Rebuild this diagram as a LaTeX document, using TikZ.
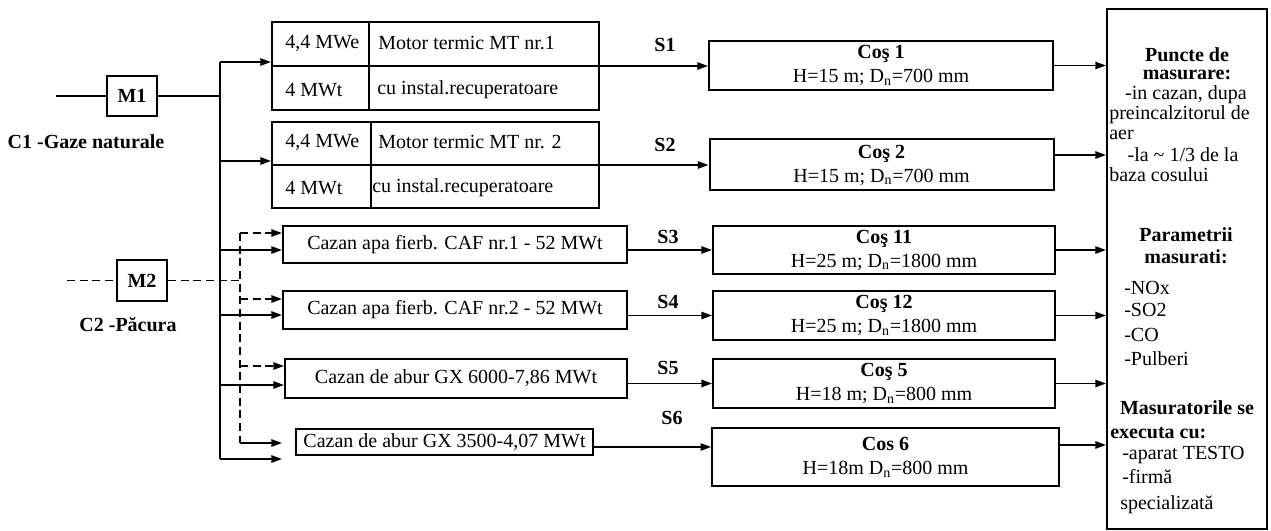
\documentclass[tikz,border=0pt]{standalone}
\usepackage{fontspec}
\setmainfont{Liberation Serif}
\usetikzlibrary{arrows.meta}

\begin{document}
\begin{tikzpicture}[x=0.75pt,y=0.75pt,yscale=-1,
        every node/.style={font=\fontsize{15}{18}\selectfont},
        hdr/.style={font=\fontsize{15}{18}\selectfont\bfseries},
        txt/.style={inner sep=0pt},
        box/.style={draw, line width=1.5pt, inner sep=0pt},
        cosbox/.style={box, minimum width=258pt, align=center},
        cazan/.style={box, minimum width=258pt},
        link/.style={line width=1.3pt},
        feed/.style={link, -{Triangle[length=8pt,width=5.5pt]}},
        oil/.style={link, dash pattern={on 6pt off 3.5pt}}]
        \path (0,0) rectangle (1271,531);

        %Shape: Rectangle (fuel metering)
        \node[box, hdr, minimum width=37.5pt, minimum height=30pt] (m1) at (132,96) {M1};
        \node[box, hdr, minimum width=37.5pt, minimum height=30.75pt] (m2) at (142,280.5) {M2};
        % Text Node
        \node[hdr] (c1) at (86,142) {C1 -Gaze naturale};
        % Text Node
        \node[hdr] (c2) at (128,325) {C2 -Păcura};

        %Straight Lines (gas bus, oil bus)
        \coordinate (in1) at (56,96);
        \coordinate (in2) at (67,280.5);
        \coordinate (j1) at (220,62);
        \coordinate (j2) at (220,161);
        \coordinate (j3) at (220,250);
        \coordinate (j4) at (220,315);
        \coordinate (j5) at (220,385);
        \coordinate (j6) at (220,459);
        \coordinate (d1) at (240,233);
        \coordinate (d2) at (240,299);
        \coordinate (d3) at (240,366);
        \coordinate (d4) at (240,443);
        \draw[link] (in1) -- (m1);
        \draw[link] (m1) -- (m1 -| j1);
        \draw[link] (j1) -- (j6);
        \draw[oil] (in2) -- (m2);
        \draw[oil] (m2) -- (m2 -| d1);
        \draw[oil] (d1) -- (d4);

        %Shape: Rectangle (motors)
        \node[box, minimum width=245.25pt, minimum height=66pt] (mt1) at (435.5,66) {};
        \draw[line width=1.5pt] (mt1.west) -- (mt1.east) (mt1.north -| 369,0) -- (mt1.south -| 369,0);
        \node[box, minimum width=245.25pt, minimum height=64.5pt] (mt2) at (435.5,165) {};
        \draw[line width=1.5pt] (mt2.west) -- (mt2.east) (mt2.north -| 371,0) -- (mt2.south -| 371,0);
        % Text Node
        \node[txt, anchor=west] (mt1e) at (285,43) {4,4 MWe};
        \node[txt, anchor=west] (mt1n) at (378,43) {Motor termic MT nr.1};
        \node[txt, anchor=west] (mt1t) at (285,90) {4 MWt};
        \node[txt, anchor=west] (mt1r) at (377,90) {cu instal.recuperatoare};
        \node[txt, anchor=west] (mt2e) at (285,142) {4,4 MWe};
        \node[txt, anchor=west] (mt2n) at (378,142) {Motor termic MT nr. 2};
        \node[txt, anchor=west] (mt2t) at (285,188) {4 MWt};
        \node[txt, anchor=west] (mt2r) at (372,188) {cu instal.recuperatoare};

        %Shape: Rectangle (boilers)
        \node[cazan, minimum height=27.75pt] (caf1) at (455,244.5) {Cazan apa fierb. CAF nr.1 - 52 MWt};
        \node[cazan, minimum height=28.5pt] (caf2) at (455,310) {Cazan apa fierb. CAF nr.2 - 52 MWt};
        \node[cazan, minimum width=256.5pt, minimum height=29.25pt] (gx60) at (456,378.5) {Cazan de abur GX 6000-7,86 MWt};
        \node[box, minimum width=222.75pt, minimum height=19.5pt] (gx35) at (444.5,442) {Cazan de abur GX 3500-4,07 MWt};

        %Straight Lines (feeds)
        \draw[feed] (j1) -- (j1 -| mt1.west);
        \draw[feed] (j2) -- (j2 -| mt2.west);
        \draw[feed] (j3) -- (j3 -| caf1.west);
        \draw[feed] (j4) -- (j4 -| caf2.west);
        \draw[feed] (j5) -- (j5 -| gx60.west);
        \draw[feed] (j6) -- (j6 -| caf1.west);
        \draw[feed, oil] (d1) -- (d1 -| caf1.west);
        \draw[feed, oil] (d2) -- (d2 -| caf2.west);
        \draw[feed, oil] (d3) -- (d3 -| gx60.west);
        \draw[feed] (d4) -- (d4 -| caf1.west);

        %Shape: Rectangle (stacks)
        \node[cosbox, minimum height=36.75pt] (cos1) at (881,65.5) {\textbf{Coş 1}\\H=15 m; D\textsubscript{n}=700 mm};
        \node[cosbox, minimum height=38.25pt] (cos2) at (881.5,165) {\textbf{Coş 2}\\H=15 m; D\textsubscript{n}=700 mm};
        \node[cosbox, minimum width=256.5pt, minimum height=36pt] (cos11) at (884,250) {\textbf{Coş 11}\\H=25 m; D\textsubscript{n}=1800 mm};
        \node[cosbox, minimum width=256.5pt, minimum height=36.75pt] (cos12) at (884,315.5) {\textbf{Coş 12}\\H=25 m; D\textsubscript{n}=1800 mm};
        \node[cosbox, minimum width=256.5pt, minimum height=36.75pt] (cos5) at (884,383.5) {\textbf{Coş 5}\\H=18 m; D\textsubscript{n}=800 mm};
        \node[cosbox, minimum width=260pt, minimum height=43.5pt] (cos6) at (885.5,457) {\textbf{Cos 6}\\H=18m D\textsubscript{n}=800 mm};

        %Straight Lines (flue gas)
        \draw[feed] (mt1.east) -- (mt1.east -| cos1.west);
        \draw[feed] (mt2.east) -- (mt2.east -| cos2.west);
        \draw[feed] (caf1.east |- cos11) -- (cos11.west);
        \draw[feed] (caf2.east |- cos12) -- (cos12.west);
        \draw[feed] (gx60.east |- cos5) -- (cos5.west);
        \draw[feed] ([yshift=3.75pt]gx35.east) -- ([yshift=3.75pt]gx35.east -| cos6.west);
        % Text Node
        \node[hdr] (s1) at (665,45) {S1};
        \node[hdr] (s2) at (665,145) {S2};
        \node[hdr] (s3) at (668,237) {S3};
        \node[hdr] (s4) at (668,302) {S4};
        \node[hdr] (s5) at (668,368) {S5};
        \node[hdr] (s6) at (672,418) {S6};

        %Shape: Rectangle (measurement)
        \node[box, minimum width=120pt, minimum height=390pt] (meas) at (1187,269) {};
        \draw[feed] (cos1.east) -- (cos1.east -| meas.west);
        \draw[feed] ([yshift=-7.5pt]cos2.east) -- ([yshift=-7.5pt]cos2.east -| meas.west);
        \draw[feed] (cos11.east) -- (cos11.east -| meas.west);
        \draw[feed] (cos12.east) -- (cos12.east -| meas.west);
        \draw[feed] (cos5.east) -- (cos5.east -| meas.west);
        \draw[feed] ([yshift=-9pt]cos6.east) -- ([yshift=-9pt]cos6.east -| meas.west);

        % Text Node
        \node[txt, hdr] (pm1) at (1187,55) {Puncte de};
        \node[txt, hdr] (pm2) at (1187,75) {masurare:};
        \node[txt] (pm3) at (1186,95) {-in cazan, dupa};
        \node[txt, anchor=west] (pm4) at (1109,115) {preincalzitorul de};
        \node[txt, anchor=west] (pm5) at (1109,135) {aer};
        \node[txt] (pm6) at (1183,155) {-la \textasciitilde{} 1/3 de la};
        \node[txt, anchor=west] (pm7) at (1109,175) {baza cosului};
        % Text Node
        \node[txt, hdr] (pr1) at (1186,235) {Parametrii};
        \node[txt, hdr] (pr2) at (1186,257) {masurati:};
        \node[txt, anchor=west] (pr3) at (1124,288) {-NOx};
        \node[txt, anchor=west] (pr4) at (1124,310) {-SO2};
        \node[txt, anchor=west] (pr5) at (1124,335) {-CO};
        \node[txt, anchor=west] (pr6) at (1124,359) {-Pulberi};
        % Text Node
        \node[txt, hdr] (ex1) at (1187,408) {Masuratorile se};
        \node[txt, hdr, anchor=west] (ex2) at (1110,433) {executa cu:};
        \node[txt, anchor=west] (ex3) at (1122,455) {-aparat TESTO};
        \node[txt, anchor=west] (ex4) at (1122,477) {-firmă};
        \node[txt, anchor=west] (ex5) at (1120,505) {specializată};
\end{tikzpicture}
\end{document}
